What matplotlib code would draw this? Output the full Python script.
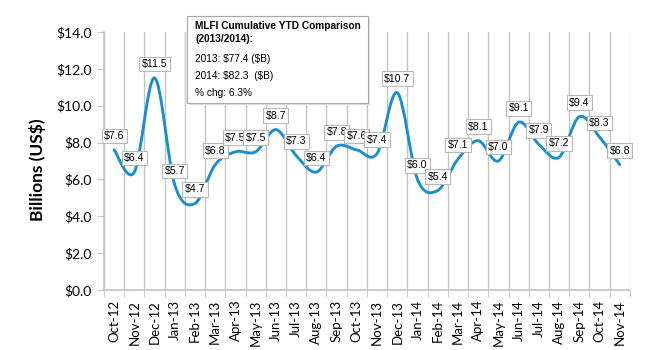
import matplotlib
matplotlib.use("Agg")
import matplotlib.pyplot as plt
from matplotlib.path import Path
from matplotlib.patches import PathPatch, Rectangle
import numpy as np

months = ["Oct-12", "Nov-12", "Dec-12", "Jan-13", "Feb-13", "Mar-13", "Apr-13",
          "May-13", "Jun-13", "Jul-13", "Aug-13", "Sep-13", "Oct-13", "Nov-13",
          "Dec-13", "Jan-14", "Feb-14", "Mar-14", "Apr-14", "May-14", "Jun-14",
          "Jul-14", "Aug-14", "Sep-14", "Oct-14", "Nov-14"]
values = [7.6, 6.4, 11.5, 5.7, 4.7, 6.8, 7.5, 7.5, 8.7, 7.3, 6.4, 7.8, 7.6, 7.4,
          10.7, 6.0, 5.4, 7.1, 8.1, 7.0, 9.1, 7.9, 7.2, 9.4, 8.3, 6.8]
yticks = [0, 2, 4, 6, 8, 10, 12, 14]
box_title = "MLFI Cumulative YTD Comparison\n(2013/2014):"
box_lines = [r"2013: \$77.4 (\$B)", r"2014: \$82.3  (\$B)", "% chg: 6.3%"]

LINE = "#1a8fd0"
GRID = "#c4c4c4"


def smooth_path(xs, ys):
    # Excel-style smoothed line: cubic Bezier through every point
    pts = np.column_stack([xs, ys]).astype(float)
    ext = np.vstack([pts[0], pts, pts[-1]])
    verts = [pts[0]]
    codes = [Path.MOVETO]
    for i in range(len(pts) - 1):
        p0, p1, p2, p3 = ext[i], ext[i + 1], ext[i + 2], ext[i + 3]
        c1 = p1 + (p2 - p0) / 6.0
        c2 = p2 - (p3 - p1) / 6.0
        verts += [c1, c2, p2]
        codes += [Path.CURVE4] * 3
    return Path(verts, codes)


fig = plt.figure(figsize=(6.5, 3.5), dpi=100)
ax = fig.add_axes([0.16, 0.171, 0.809, 0.738])

x = np.arange(len(months))
ax.add_patch(PathPatch(smooth_path(x, values), facecolor="none",
                       edgecolor=LINE, linewidth=2.1, capstyle="round", zorder=3))

for xi, v in zip(x, values):
    ax.annotate(f"${v:.1f}", (xi, v), xytext=(0, 14), textcoords="offset pixels",
                ha="center", va="center", fontsize=7.6, family="Liberation Sans",
                bbox=dict(boxstyle="square,pad=0.22", facecolor="white",
                          edgecolor="#b8b8b8", linewidth=0.8), zorder=4)

ax.set_xlim(-0.5, len(months) - 0.5)
ax.set_ylim(0, 14)
ax.set_xticks(x)
ax.set_xticklabels(months, rotation=90, family="Lato", fontsize=9.5)
ax.set_xticks(np.arange(-0.5, len(months)), minor=True)
ax.tick_params(axis="x", which="major", length=0, pad=7)
ax.tick_params(axis="x", which="minor", length=5, color=GRID, direction="out")
ax.grid(True, axis="x", which="minor", color=GRID, linewidth=1)
ax.set_yticks(yticks)
ax.set_yticklabels([f"${t:.1f}" for t in yticks], family="Lato", fontsize=10)
ax.tick_params(axis="y", length=5, color=GRID, pad=4)

for side in ["top", "right"]:
    ax.spines[side].set_visible(False)
for side in ["left", "bottom"]:
    ax.spines[side].set_color(GRID)
    ax.spines[side].set_linewidth(1.2)

fig.text(0.058, 0.514, "Billions (US$)", rotation=90, ha="center", va="center",
         family="Lato", fontweight="bold", fontsize=12.5)

# comparison text box
W, H = 650.0, 350.0
fig.patches.append(Rectangle((189 / W, 1 - 105 / H), 181 / W, 87 / H,
                             transform=fig.transFigure, facecolor="#dddddd",
                             edgecolor="none", zorder=5))
fig.patches.append(Rectangle((187 / W, 1 - 103 / H), 181 / W, 87 / H,
                             transform=fig.transFigure, facecolor="white",
                             edgecolor="#a8a8a8", linewidth=0.8, zorder=6))
fig.text(195 / W, 1 - 21 / H, box_title, ha="left", va="top", family="Liberation Sans",
         fontweight="bold", fontsize=7.3, linespacing=1.35, zorder=7)
for k, line in enumerate(box_lines):
    fig.text(195 / W, 1 - (59 + 17 * k) / H, line, ha="left", va="center",
             family="Liberation Sans", fontsize=7.3, zorder=7)

fig.savefig("out.png", dpi=100)
